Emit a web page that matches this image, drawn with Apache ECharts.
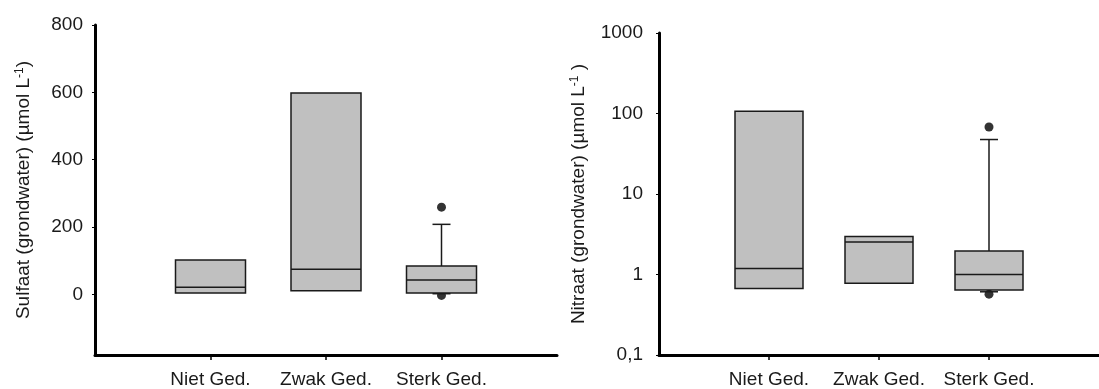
<!DOCTYPE html>
<html>
<head>
<meta charset="utf-8">
<script src="https://cdn.jsdelivr.net/npm/echarts@6/dist/echarts.min.js"></script>
<style>
  html, body { margin: 0; padding: 0; background: #fff; }
  #chart { width: 1099px; height: 389px; }
</style>
</head>
<body>
<div id="chart"></div>
<script>
// categorieen (positie 1, 2, 3 op de x-as)
const categories = ['Niet Ged.', 'Zwak Ged.', 'Sterk Ged.'];

// sulfaat: [min, Q1, mediaan, Q3, max]
const sulfaatBox = [
  [4, 4, 21, 102, 102],
  [11, 11, 75, 598, 598],
  [2, 4, 43, 84, 208]
];
// sulfaat uitschieters: [categorie, waarde]
const sulfaatOutliers = [[3, 259], [3, -3]];

// nitraat: [min, Q1, mediaan, Q3, max]
const nitraatBox = [
  [0.67, 0.67, 1.19, 107, 107],
  [0.78, 0.78, 2.54, 2.97, 2.97],
  [0.61, 0.64, 1.0, 1.96, 47.5]
];
const nitraatOutliers = [[3, 68], [3, 0.57]];

const sulfaatTicks = [0, 200, 400, 600, 800];

const FONT = "'Liberation Sans', Arial, sans-serif";
const INK = '#1a1a1a';
const FS = 19;

// box met snorharen tekenen via de assen van echarts
function boxRenderer(halfWidth) {
  return function (params, api) {
    const x = api.value(0);
    const lo = api.coord([x, api.value(1)]);
    const q1 = api.coord([x, api.value(2)]);
    const md = api.coord([x, api.value(3)]);
    const q3 = api.coord([x, api.value(4)]);
    const hi = api.coord([x, api.value(5)]);
    const cx = md[0];
    const cap = 9;
    const line = { stroke: INK, lineWidth: 1.5 };
    const children = [];
    if (hi[1] < q3[1] - 0.5) {
      children.push({ type: 'line', shape: { x1: cx, y1: q3[1], x2: cx, y2: hi[1] }, style: line });
      children.push({ type: 'line', shape: { x1: cx - cap, y1: hi[1], x2: cx + cap, y2: hi[1] }, style: line });
    }
    if (lo[1] > q1[1] + 0.5) {
      children.push({ type: 'line', shape: { x1: cx, y1: q1[1], x2: cx, y2: lo[1] }, style: line });
      children.push({ type: 'line', shape: { x1: cx - cap, y1: lo[1], x2: cx + cap, y2: lo[1] }, style: line });
    }
    children.push({
      type: 'rect',
      shape: { x: cx - halfWidth, y: q3[1], width: halfWidth * 2, height: q1[1] - q3[1] },
      style: { fill: '#c0c0c0', stroke: INK, lineWidth: 1.5 }
    });
    children.push({ type: 'line', shape: { x1: cx - halfWidth, y1: md[1], x2: cx + halfWidth, y2: md[1] }, style: line });
    return { type: 'group', children: children };
  };
}

function xAxisFor(gridIndex) {
  return {
    type: 'value',
    gridIndex: gridIndex,
    min: 0,
    max: 4,
    splitLine: { show: false },
    axisLine: { show: true, onZero: false, lineStyle: { color: '#000', width: 3 } },
    axisTick: { show: true, customValues: [1, 2, 3], length: 5, lineStyle: { color: '#000', width: 1.5 } },
    axisLabel: {
      customValues: [1, 2, 3],
      formatter: v => categories[v - 1] || '',
      color: INK, fontFamily: FONT, fontSize: FS, margin: 15
    }
  };
}

const chart = echarts.init(document.getElementById('chart'));
chart.setOption({
  animation: false,
  backgroundColor: '#fff',
  grid: [
    { left: 95, top: 25, width: 462, height: 330 },
    { left: 659, top: 33, width: 448, height: 322 }
  ],
  xAxis: [xAxisFor(0), xAxisFor(1)],
  yAxis: [
    {
      type: 'value',
      gridIndex: 0,
      min: -180,
      max: 800,
      splitLine: { show: false },
      axisLine: { show: true, onZero: false, lineStyle: { color: '#000', width: 3 } },
      axisTick: { show: true, customValues: sulfaatTicks, length: 3, lineStyle: { color: '#000', width: 1 } },
      axisLabel: { customValues: sulfaatTicks, color: INK, fontFamily: FONT, fontSize: FS, margin: 12 },
      name: 'Sulfaat (grondwater) (µmol L{sup|-1})',
      nameLocation: 'middle',
      nameGap: 62,
      nameTextStyle: {
        color: INK, fontFamily: FONT, fontSize: FS,
        rich: { sup: { fontSize: 12, verticalAlign: 'top', color: INK, fontFamily: FONT } }
      }
    },
    {
      type: 'log',
      gridIndex: 1,
      logBase: 10,
      min: 0.1,
      max: 1000,
      splitLine: { show: false },
      minorTick: { show: false },
      axisLine: { show: true, onZero: false, lineStyle: { color: '#000', width: 3 } },
      axisTick: { show: true, length: 3, lineStyle: { color: '#000', width: 1 } },
      axisLabel: {
        color: INK, fontFamily: FONT, fontSize: FS, margin: 16,
        formatter: v => String(+v.toPrecision(6)).replace('.', ',')
      },
      name: 'Nitraat (grondwater) (µmol L{sup|-1} )',
      nameLocation: 'middle',
      nameGap: 71,
      nameTextStyle: {
        color: INK, fontFamily: FONT, fontSize: FS,
        rich: { sup: { fontSize: 12, verticalAlign: 'top', color: INK, fontFamily: FONT } }
      }
    }
  ],
  series: [
    {
      type: 'custom',
      xAxisIndex: 0, yAxisIndex: 0,
      z: 3,
      renderItem: boxRenderer(35),
      encode: { x: 0, y: [1, 2, 3, 4, 5] },
      data: sulfaatBox.map((b, i) => [i + 1].concat(b))
    },
    {
      type: 'scatter',
      xAxisIndex: 0, yAxisIndex: 0,
      z: 1,
      symbol: 'circle',
      symbolSize: 9,
      itemStyle: { color: '#000' },
      data: sulfaatOutliers
    },
    {
      type: 'custom',
      xAxisIndex: 1, yAxisIndex: 1,
      z: 3,
      renderItem: boxRenderer(34),
      encode: { x: 0, y: [1, 2, 3, 4, 5] },
      data: nitraatBox.map((b, i) => [i + 1].concat(b))
    },
    {
      type: 'scatter',
      xAxisIndex: 1, yAxisIndex: 1,
      z: 1,
      symbol: 'circle',
      symbolSize: 9,
      itemStyle: { color: '#000' },
      data: nitraatOutliers
    }
  ]
});
window.onresize = () => {
  chart.resize();
};
</script>
</body>
</html>
